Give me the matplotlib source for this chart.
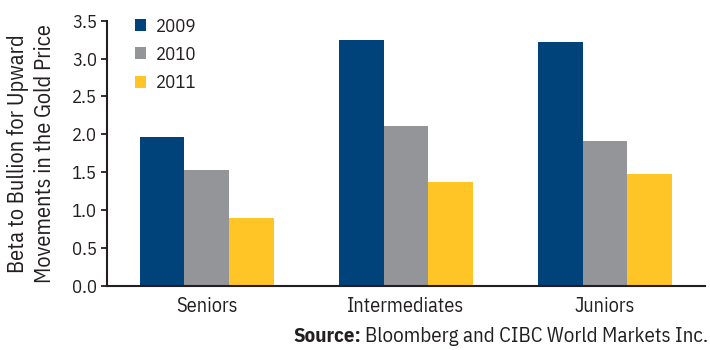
import numpy as np
import matplotlib.pyplot as plt

plt.rcParams['font.family'] = ['IBM Plex Sans Condensed', 'DejaVu Sans']

# data
categories = ['Seniors', 'Intermediates', 'Juniors']
years = ['2009', '2010', '2011']
beta_2009 = [1.96, 3.25, 3.22]
beta_2010 = [1.53, 2.11, 1.91]
beta_2011 = [0.90, 1.37, 1.48]
yticks = [0.0, 0.5, 1.0, 1.5, 2.0, 2.5, 3.0, 3.5]

colors = ['#00427a', '#939598', '#ffc425']
text_col = '#231f20'
fs = 13.5

fig = plt.figure(figsize=(7.1, 3.5), dpi=100)
ax = fig.add_axes([0.1507, 0.183, 0.842, 0.758])

x = np.arange(len(categories))
w = 0.224
for i, (vals, yr) in enumerate(zip([beta_2009, beta_2010, beta_2011], years)):
    ax.bar(x + (i - 1) * w, vals, width=w, color=colors[i], label=yr, linewidth=0)

ax.set_xlim(-0.5, 2.5)
ax.set_ylim(0, 3.5)
ax.set_yticks(yticks)
ax.set_yticklabels([f'{v:.1f}' for v in yticks], fontsize=fs, color=text_col)
ax.set_xticks(x)
ax.set_xticklabels(categories, fontsize=14.6, color=text_col)
ax.tick_params(axis='x', length=0, pad=8)
ax.tick_params(axis='y', length=4, width=1.3, color=text_col, pad=3)

for s in ['top', 'right']:
    ax.spines[s].set_visible(False)
for s in ['left', 'bottom']:
    ax.spines[s].set_linewidth(1.5)
    ax.spines[s].set_color(text_col)

ax.set_ylabel('Beta to Bullion for Upward\nMovements in the Gold Price',
              fontsize=16, color=text_col, linespacing=1.3, labelpad=12)

leg = ax.legend(loc='upper left', bbox_to_anchor=(0.018, 1.075), frameon=False,
                fontsize=fs, handlelength=0.6, handleheight=0.6,
                handletextpad=0.55, labelspacing=0.55)
for t in leg.get_texts():
    t.set_color(text_col)

# source line: bold prefix + normal text, right aligned
src = fig.text(0.997, 0.022, 'Bloomberg and CIBC World Markets Inc.', ha='right',
               va='baseline', fontsize=15, color=text_col)
fig.canvas.draw()
bb = src.get_window_extent()
fig.text(bb.x0 / fig.bbox.width - 0.005, 0.022, 'Source:', ha='right', va='baseline',
         fontsize=15, fontweight='bold', color=text_col)

fig.savefig('out.png', dpi=100)
